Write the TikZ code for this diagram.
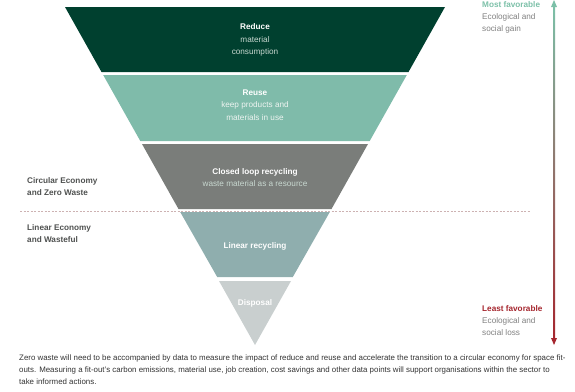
\documentclass[tikz,border=0pt]{standalone}
\usepackage{fontspec}
\setmainfont{Liberation Sans}
\usetikzlibrary{calc}
\definecolor{cReduce}{HTML}{00402F}
\definecolor{cReuse}{HTML}{7FBBAA}
\definecolor{cClosed}{HTML}{7A7D7A}
\definecolor{cLinear}{HTML}{8FAEAE}
\definecolor{cDisp}{HTML}{C9CFCF}
\definecolor{subA}{HTML}{C8D8D0}
\definecolor{subB}{HTML}{EEF4F1}
\definecolor{labgray}{HTML}{4F5150}
\definecolor{bodygray}{HTML}{333333}
\definecolor{favgreen}{HTML}{7CC0A8}
\definecolor{lessred}{HTML}{A5262E}
\definecolor{dashpink}{HTML}{CDB2B2}
\definecolor{midgray}{HTML}{A39E9C}
\tikzset{
  bandtxt/.style={align=center, text=white, inner sep=0pt, font=\fontsize{8.2}{12.5}\selectfont},
  sidelab/.style={align=left, anchor=north west, inner sep=0pt, text=labgray, font=\fontsize{8.2}{12}\selectfont\bfseries},
  rightlab/.style={align=left, anchor=north west, inner sep=0pt, text=gray, font=\fontsize{8.2}{12}\selectfont},
}
\begin{document}
\begin{tikzpicture}[x=1pt,y=-1pt]
\useasboundingbox (0,0) rectangle (575,391);
% bands
\fill[cReduce] (65,7) -- (445,7) -- (408.5,72) -- (101.5,72) -- cycle;
\fill[cReuse] (103.2,75) -- (406.8,75) -- (369.7,141) -- (140.3,141) -- cycle;
\fill[cClosed] (142,144) -- (368,144) -- (331.5,209) -- (178.5,209) -- cycle;
\fill[cLinear] (180.2,212) -- (329.8,212) -- (292.8,277) -- (217.2,277) -- cycle;
\fill[cDisp] (219,281) -- (291,281) -- (255,345) -- cycle;
% dashed divider
\coordinate (dl) at (20,211);
\coordinate (dr) at (530,211);
\draw[dashpink, line width=1pt, dash pattern=on 2pt off 1.5pt] (dl) -- (dr);
% band labels
\node[bandtxt] (reduce) at (255,40) {\textbf{Reduce}\\\textcolor{subA}{material}\\\textcolor{subA}{consumption}};
\node[bandtxt] (reuse) at (255,105) {\textbf{Reuse}\\\textcolor{subB}{keep products and}\\\textcolor{subB}{materials in use}};
\node[bandtxt] (closed) at (255,177.5) {\textbf{Closed loop recycling}\\\textcolor{subA}{waste material as a resource}};
\node[bandtxt] (linear) at (255,246) {\textbf{Linear recycling}};
\node[bandtxt] (disp) at (255,303) {\textbf{Disposal}};
% side labels
\node[sidelab] (circ) at (27,177) {Circular Economy\\and Zero Waste};
\node[sidelab] (lin) at (27,224) {Linear Economy\\and Wasteful};
% right labels
\node[rightlab] (most) at (482,1.5) {\textcolor{favgreen}{\bfseries Most favorable}\\Ecological and\\social gain};
\node[rightlab] (least) at (482,305.5) {\textcolor{lessred}{\bfseries Least favorable}\\Ecological and\\social loss};
% gradient arrow
\coordinate (atop) at (554,0);
\coordinate (abot) at (554,345);
\shade[top color=favgreen, middle color=midgray, bottom color=lessred] (553,6) rectangle (555,339);
\fill[favgreen] (atop) -- ++(3,7) -- ++(-6,0) -- cycle;
\fill[lessred] (abot) -- ++(3,-7) -- ++(-6,0) -- cycle;
% body text
\node[anchor=north west, align=left, inner sep=0pt, text=bodygray, font=\fontsize{7.9}{12}\selectfont] (note) at (19,355)
{Zero waste will need to be accompanied by data to measure the impact of reduce and reuse and accelerate the transition to a circular economy for space fit-\\outs. Measuring a fit-out's carbon emissions, material use, job creation, cost savings and other data points will support organisations within the sector to\\take informed actions.};
\end{tikzpicture}
\end{document}
